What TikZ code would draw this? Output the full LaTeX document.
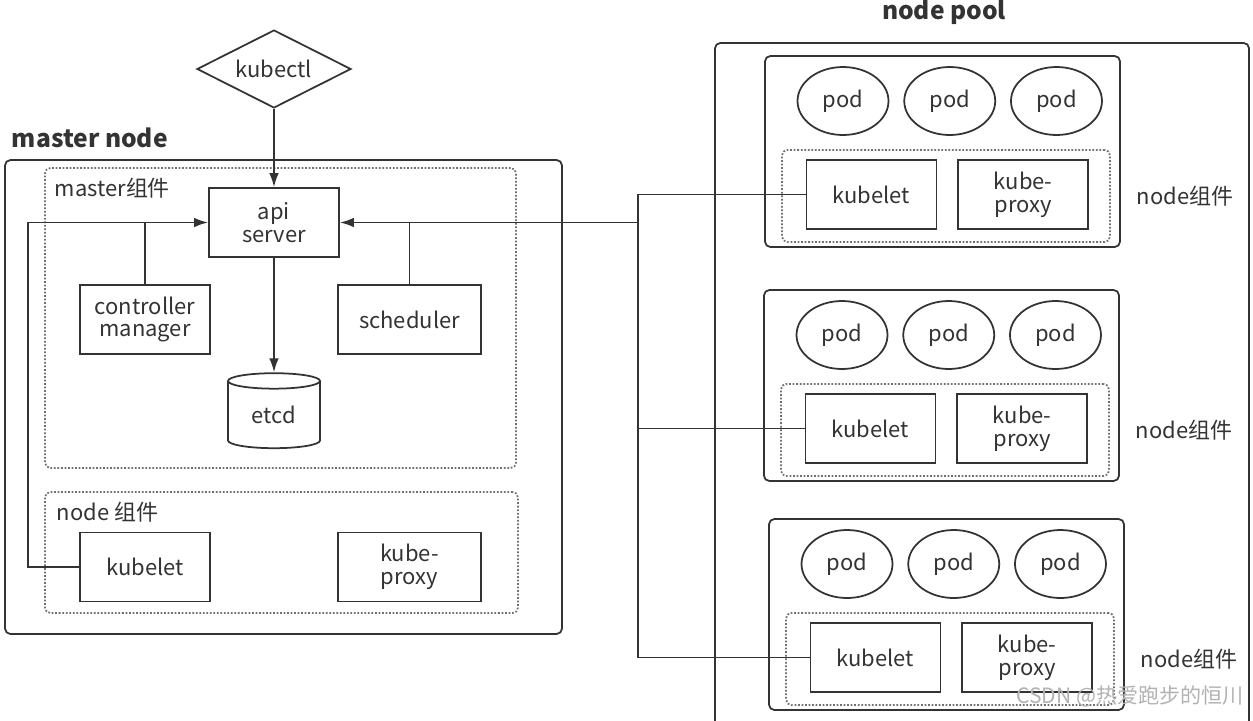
\documentclass[tikz,border=0pt]{standalone}
\usepackage{fontspec}
\setmainfont{Noto Sans CJK SC}
\usetikzlibrary{positioning,shapes.geometric,arrows.meta}
\definecolor{linegray}{HTML}{333333}
\definecolor{dotgray}{HTML}{707070}

\begin{document}
\begin{tikzpicture}[x=0.02cm,y=-0.02cm,
  line width=1pt,color=linegray,
  font=\fontsize{12.5}{13}\selectfont,
  box/.style={draw,rectangle,minimum width=2.6cm,minimum height=1.38cm,align=center,inner sep=1pt},
  pod/.style={draw,ellipse,minimum width=1.82cm,minimum height=1.36cm,inner sep=0pt},
  outer/.style={draw,rectangle,rounded corners=3pt,inner sep=0pt},
  group/.style={draw=dotgray,densely dotted,rectangle,rounded corners=3pt,inner sep=0pt},
  arr/.style={-{Latex[length=8pt,width=5.5pt]}},
  title/.style={font=\fontsize{14}{16}\selectfont\bfseries}]
\useasboundingbox (0,0) rectangle (1253,720);
\clip (0,0) rectangle (1253,720);

% master node
\node (mtitle) [title,anchor=west,inner sep=0pt] at (11,138) {master node};
\node (master) [outer,minimum width=11.14cm,minimum height=9.48cm] at (283.5,397) {};
\node (mgroup) [group,minimum width=9.42cm,minimum height=6cm] at (280.5,318) {};
\node (mglabel) [anchor=west,inner sep=0pt] at (54,188) {master组件};
\node (ngroup) [group,minimum width=9.46cm,minimum height=2.42cm] at (281.5,552.5) {};
\node (nglabel) [anchor=west,inner sep=0pt] at (56,512) {node 组件};

\node (kubectl) [draw,diamond,aspect=2,minimum width=3.08cm,minimum height=1.56cm,inner sep=0pt] at (274,69) {kubectl};
\node (api) [box] at (274,222.5) {api\\server};
\node (cm) [box] at (145,319.5) {controller\\manager};
\node (sched) [box,minimum width=2.86cm] at (409.5,319.5) {scheduler};
\node (etcd) [draw,cylinder,shape border rotate=90,aspect=0.35,
    minimum width=1.84cm,minimum height=1.5cm,inner sep=0pt] at (274,415) {etcd};
\node (mkubelet) [box] at (145,567) {kubelet};
\node (mproxy) [box,minimum width=2.86cm] at (409.5,567) {kube-\\proxy};

% node pool
\node (ptitle) [title] at (944,12) {node pool};
\draw[rounded corners=3pt] (715,760) |- (1249,43) -- (1249,760);
\foreach \i/\dx/\dy in {1/0/0,2/-1/234,3/4/463}{
  \begin{scope}[shift={(\dx,\dy)}]
    \node (w\i) [outer,minimum width=7.1cm,minimum height=3.82cm] at (942.5,151.5) {};
    \node (wg\i) [group,minimum width=6.56cm,minimum height=1.84cm] at (946,196) {};
    \node (k\i) [box] at (871.5,194.5) {kubelet};
    \node (p\i) [box,right=0.4cm of k\i] {kube-\\proxy};
    \node (pa\i) [pod] at (843,101) {pod};
    \node (pb\i) [pod,right=0.28cm of pa\i] {pod};
    \node (pc\i) [pod,right=0.28cm of pb\i] {pod};
    \node (wl\i) at (1185,196) {node组件};
  \end{scope}
}

% connectors
\coordinate (lbus) at (28,222.5);
\coordinate (rbus) at (638,222.5);
\draw[arr] (kubectl) -- (api);
\draw[arr] (api) -- (etcd);
\draw[arr] (mkubelet.west) -| (lbus) -- (api.west);
\draw (cm.north) -- (cm.north |- api.west);
\draw (sched.north) -- (sched.north |- api.east);
\draw[arr] (rbus) -- (api.east);
\foreach \i in {1,2,3} \draw (k\i.west) -| (rbus);

\node (wm) [text=gray!60,font=\fontsize{12}{13}\selectfont] at (1130,696) {CSDN @热爱跑步的恒川};
\end{tikzpicture}
\end{document}
